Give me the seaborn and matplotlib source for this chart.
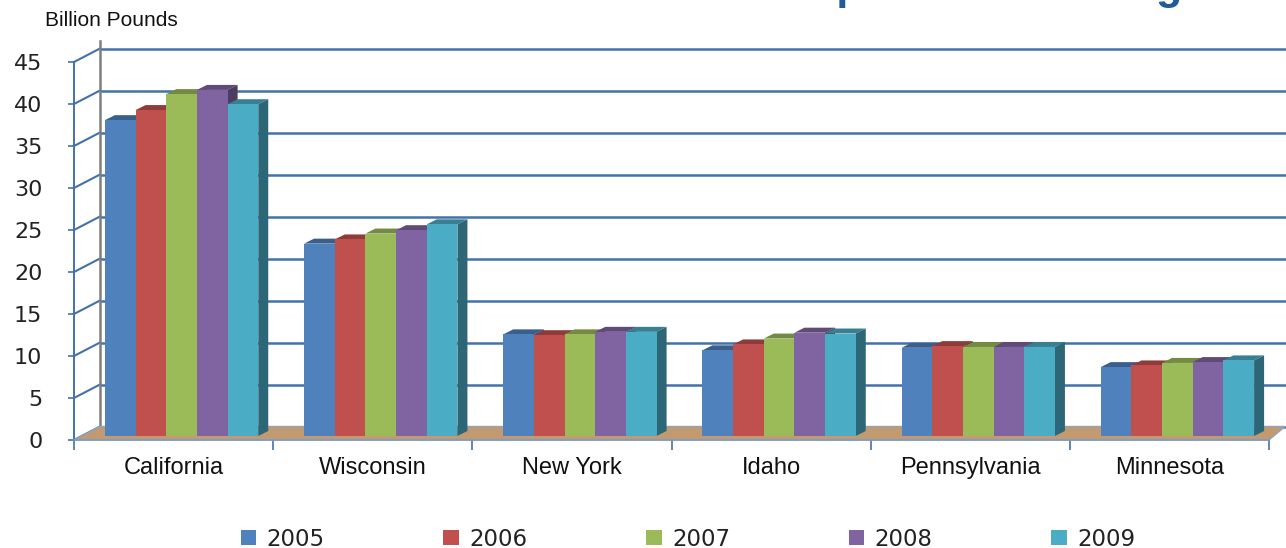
import numpy as np
import pandas as pd
import seaborn as sns
import matplotlib
matplotlib.use("Agg")
import matplotlib.pyplot as plt
from matplotlib.patches import Polygon
from matplotlib.transforms import ScaledTranslation
import matplotlib.colors as mcolors

# ---------------- data ----------------
states = ["California", "Wisconsin", "New York", "Idaho", "Pennsylvania", "Minnesota"]
years = ["2005", "2006", "2007", "2008", "2009"]
v2005 = [37.6, 22.9, 12.1, 10.2, 10.5, 8.2]
v2006 = [38.8, 23.4, 12.0, 10.9, 10.7, 8.4]
v2007 = [40.7, 24.1, 12.1, 11.6, 10.6, 8.7]
v2008 = [41.2, 24.5, 12.4, 12.3, 10.6, 8.8]
v2009 = [39.5, 25.2, 12.4, 12.2, 10.6, 9.0]
yticks = [0, 5, 10, 15, 20, 25, 30, 35, 40, 45]
colors = ["#4F81BD", "#C0504D", "#9BBB59", "#8064A2", "#4BACC6"]
title_text = "Top Milk Producing States"
ylabel_text = "Billion Pounds"

series = [v2005, v2006, v2007, v2008, v2009]
rows = []
for yr, vals in zip(years, series):
    for st, v in zip(states, vals):
        rows.append({"State": st, "Year": yr, "Value": v})
df = pd.DataFrame(rows)

# ---------------- figure ----------------
W, H = 1286, 548
fig = plt.figure(figsize=(W / 100, H / 100), dpi=100)
ax = fig.add_axes([74 / W, (H - 440) / H, 1195 / W, 378 / H])

sns.barplot(data=df, x="State", y="Value", hue="Year", hue_order=years,
            order=states, palette=colors, width=0.77, saturation=1,
            ax=ax, legend=True, zorder=3, linewidth=0)
ax.set_xlim(-0.5, len(states) - 0.5)
ax.set_ylim(0, 45)

# pixel -> data scale
sx = (len(states)) / 1195.0
sy = 45.0 / 378.0

grid_c = "#4372AA"
# back wall offset (px)
BWX, BWY = 26, 13.5
# bar depth position offset and bar depth (px)
BX, BY = 8, 4
DX, DY = 10, 5

def off(dxp, dyp):
    return ax.transData + ScaledTranslation(dxp / 100, dyp / 100, fig.dpi_scale_trans)

# back wall gridlines
ax.hlines(yticks, -0.5, len(states) - 0.5 + 0.2, colors=grid_c, lw=1.8,
          transform=off(BWX, BWY), clip_on=False, zorder=0.5)
# left wall diagonals
for t in yticks:
    ax.plot([-0.5, -0.5 + BWX * sx], [t, t + BWY * sy], color=grid_c, lw=1.5,
            clip_on=False, zorder=0.6)
# back-left vertical edge
ax.plot([-0.5 + BWX * sx] * 2, [BWY * sy, 45 + (BWY + 8) * sy], color="#7F7F7F",
        lw=1.8, clip_on=False, zorder=0.7)

# floor
xr = len(states) - 0.5
floor = Polygon([(-0.5, 0), (xr, 0), (xr + (BWX - 10) * sx, BWY * sy),
                 (-0.5 + BWX * sx, BWY * sy)], closed=True,
                facecolor="#C39A70", edgecolor="#8FA3BC", lw=1.0,
                clip_on=False, zorder=1)
ax.add_patch(floor)

# 3D bars
def shade(c, f):
    r, g, b = mcolors.to_rgb(c)
    return (r * f, g * f, b * f)

bars = [p for p in ax.patches if p is not floor and p.get_height() > 0]
bars.sort(key=lambda p: p.get_x())
for i, p in enumerate(bars):
    x0 = p.get_x()
    w = p.get_width()
    h = p.get_height()
    fc = p.get_facecolor()
    z = 3 + i * 0.01
    p.set_transform(off(BX, BY))
    p.set_clip_on(False)
    p.set_zorder(z + 0.005)
    p.set_edgecolor(fc)
    top = Polygon([(x0, h), (x0 + w, h), (x0 + w + DX * sx, h + DY * sy),
                   (x0 + DX * sx, h + DY * sy)], closed=True,
                  facecolor=shade(fc, 0.74), edgecolor="none",
                  transform=off(BX, BY), clip_on=False, zorder=z)
    side = Polygon([(x0 + w, 0), (x0 + w + DX * sx, DY * sy),
                    (x0 + w + DX * sx, h + DY * sy), (x0 + w, h)], closed=True,
                   facecolor=shade(fc, 0.6), edgecolor="none",
                   transform=off(BX, BY), clip_on=False, zorder=z)
    ax.add_patch(top)
    ax.add_patch(side)

# axes styling
for s in ["top", "right"]:
    ax.spines[s].set_visible(False)
ax.spines["left"].set_color(grid_c)
ax.spines["left"].set_linewidth(1.4)
ax.spines["bottom"].set_color("#7F9CC0")
ax.spines["bottom"].set_linewidth(1.2)
ax.spines["left"].set_zorder(0.8)
ax.set_yticks(yticks)
ax.set_yticklabels([str(t) for t in yticks], fontsize=16, family="DejaVu Sans",
                   color="#222222")
ax.tick_params(axis="y", length=4.3, width=1.2, color=grid_c, pad=18.5)
ax.set_xticks(range(len(states)))
ax.set_xticklabels(states, fontsize=17, family="Liberation Sans", color="#111111")
ax.set_xticks(np.arange(-0.5, len(states), 1.0), minor=True)
ax.tick_params(axis="x", which="major", length=0, pad=12)
ax.tick_params(axis="x", which="minor", length=7, width=1.2, color=grid_c)
ax.set_xlabel("")
ax.set_ylabel("")
ax.set_facecolor("none")

# legend
handles, labels = ax.get_legend_handles_labels()
if ax.get_legend() is not None:
    ax.get_legend().remove()
leg = fig.legend(handles, labels, loc="center", ncol=5,
                 bbox_to_anchor=(688 / W, 1 - 539 / H),
                 frameon=False, handlelength=0.68, handleheight=0.68,
                 handletextpad=0.45, columnspacing=5.18,
                 prop={"family": "DejaVu Sans", "size": 16.5})
for t in leg.get_texts():
    t.set_color("#222222")

fig.text(45 / W, 1 - 21 / H, ylabel_text, fontsize=15, family="Liberation Sans",
         va="center", ha="left", color="#111111")
fig.text(787 / W, 1 + 1 / H, title_text, fontsize=31, fontweight="bold",
         family="Liberation Sans", color="#1F5C99", va="baseline", ha="left")

fig.savefig("out.png", dpi=100)
